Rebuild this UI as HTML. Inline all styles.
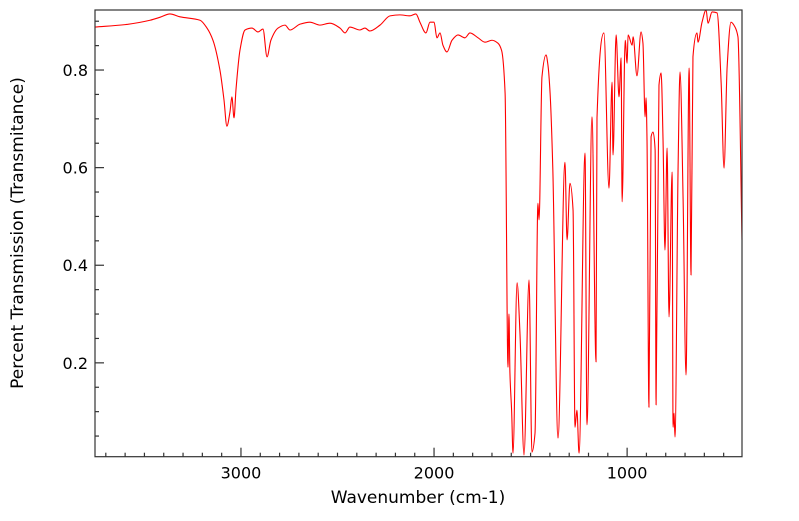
<!DOCTYPE html>
<html><head><meta charset="utf-8"><style>
html,body{margin:0;padding:0;background:#fff;}
svg text{font-family:"DejaVu Sans","Liberation Sans",sans-serif;fill:#000;}
</style></head><body>
<svg id="chart" width="799" height="516" viewBox="0 0 799 516" xmlns="http://www.w3.org/2000/svg">
<g id="axes"></g>
<path id="spectrum" fill="none" stroke="#ff0000" stroke-width="1.1" stroke-linejoin="round"></path>
<rect x="95" y="10" width="647" height="446.7" fill="none" stroke="#333" stroke-width="1.2"/>
<text x="418" y="503" font-size="17" text-anchor="middle">Wavenumber (cm-1)</text>
<text transform="translate(23,233) rotate(-90)" font-size="17" text-anchor="middle">Percent Transmission (Transmitance)</text>
</svg>
<script>
const wavenumbers=[3756,3600,3471,3420,3368,3316,3212,3176,3145,3109,3088,3073,3057,3047,3036,3026,3005,2979,2943,2912,2886,2865,2845,2808,2772,2746,2694,2643,2591,2539,2487,2461,2436,2384,2358,2332,2280,2228,2177,2125,2094,2073,2042,2021,2000,1985,1969,1954,1933,1907,1876,1840,1814,1772,1736,1700,1669,1650,1632,1617,1612,1607,1598,1591,1570,1555,1534,1508,1493,1477,1462,1456,1441,1420,1410,1399,1385,1358,1322,1311,1296,1280,1270,1260,1249,1218,1208,1182,1161,1156,1120,1094,1078,1073,1057,1042,1031,1026,1010,1000,995,974,969,949,928,918,907,902,897,887,876,866,855,850,835,824,814,804,793,783,767,762,757,752,736,726,710,695,679,669,659,638,633,612,591,581,560,534,513,498,482,462,441,426,405];
const transmittance=[0.888,0.893,0.902,0.908,0.915,0.909,0.902,0.886,0.861,0.800,0.739,0.685,0.714,0.745,0.702,0.759,0.841,0.882,0.886,0.878,0.884,0.827,0.861,0.886,0.892,0.882,0.894,0.898,0.892,0.896,0.886,0.876,0.888,0.882,0.886,0.880,0.892,0.911,0.913,0.911,0.915,0.898,0.876,0.898,0.898,0.866,0.876,0.851,0.837,0.861,0.872,0.866,0.876,0.866,0.857,0.861,0.855,0.840,0.753,0.191,0.300,0.180,0.100,0.015,0.364,0.261,0.011,0.370,0.017,0.056,0.527,0.493,0.786,0.831,0.810,0.753,0.600,0.046,0.611,0.452,0.568,0.513,0.068,0.103,0.015,0.630,0.073,0.704,0.202,0.702,0.876,0.558,0.775,0.626,0.872,0.745,0.825,0.530,0.861,0.814,0.872,0.851,0.868,0.788,0.878,0.855,0.704,0.743,0.657,0.109,0.663,0.673,0.636,0.114,0.769,0.794,0.657,0.431,0.640,0.294,0.591,0.068,0.097,0.048,0.601,0.796,0.534,0.175,0.804,0.380,0.827,0.876,0.857,0.898,0.923,0.896,0.919,0.917,0.773,0.599,0.806,0.898,0.888,0.868,0.452];
const xTicks=[3000,2000,1000];
const yTicks=[0.2,0.4,0.6,0.8];
const X0=95,X1=742,Y0=456.7,Y1=10,WMAX=3756,WMIN=405,TMIN=0.0077,TMAX=0.923;
function xs(w){return X0+(WMAX-w)/(WMAX-WMIN)*(X1-X0);}
function ys(t){return Y0-(t-TMIN)/(TMAX-TMIN)*(Y0-Y1);}
const NS='http://www.w3.org/2000/svg';
const axes=document.getElementById('axes');
function line(x1,y1,x2,y2,name){const l=document.createElementNS(NS,'line');l.setAttribute('x1',x1);l.setAttribute('y1',y1);l.setAttribute('x2',x2);l.setAttribute('y2',y2);l.setAttribute('stroke','#333');l.setAttribute('stroke-width','1.2');


axes.appendChild(l);}
for(let w=3700;w>WMIN;w-=100){const x=xs(w);const major=w%1000===0;line(x,Y0,x,Y0-(major?9:4),major?'x-major-tick':'x-minor-tick');}
xTicks.forEach(w=>{const t=document.createElementNS(NS,'text');t.setAttribute('x',xs(w));t.setAttribute('y',Y0+22);t.setAttribute('font-size','16');t.setAttribute('text-anchor','middle');t.textContent=String(w);


axes.appendChild(t);});
for(let k=1;k*0.05<TMAX;k++){const v=k*0.05;const y=ys(v);const major=k%4===0;line(X0,y,X0+(major?9:4),y,major?'y-major-tick':'y-minor-tick');}
yTicks.forEach(v=>{const t=document.createElementNS(NS,'text');t.setAttribute('x',X0-7);t.setAttribute('y',ys(v)+6);t.setAttribute('font-size','16');t.setAttribute('text-anchor','end');t.textContent=v.toFixed(1);


axes.appendChild(t);});
// monotone cubic path
const P=wavenumbers.map((w,i)=>[xs(w),ys(transmittance[i])]);
const n=P.length,dk=[],m=[];
for(let i=0;i<n-1;i++)dk.push((P[i+1][1]-P[i][1])/(P[i+1][0]-P[i][0]));
for(let i=0;i<n;i++){if(i===0)m.push(dk[0]);else if(i===n-1)m.push(dk[n-2]);else if(dk[i-1]*dk[i]<=0)m.push(0);else{const h0=P[i][0]-P[i-1][0],h1=P[i+1][0]-P[i][0];const w1=2*h1+h0,w2=h1+2*h0;m.push((w1+w2)/(w1/dk[i-1]+w2/dk[i]));}}
let d='M'+P[0][0].toFixed(2)+','+P[0][1].toFixed(2);
for(let i=0;i<n-1;i++){const h=(P[i+1][0]-P[i][0])/3;d+='C'+(P[i][0]+h).toFixed(2)+','+(P[i][1]+m[i]*h).toFixed(2)+' '+(P[i+1][0]-h).toFixed(2)+','+(P[i+1][1]-m[i+1]*h).toFixed(2)+' '+P[i+1][0].toFixed(2)+','+P[i+1][1].toFixed(2);}
document.getElementById('spectrum').setAttribute('d',d);
</script>
</body></html>
